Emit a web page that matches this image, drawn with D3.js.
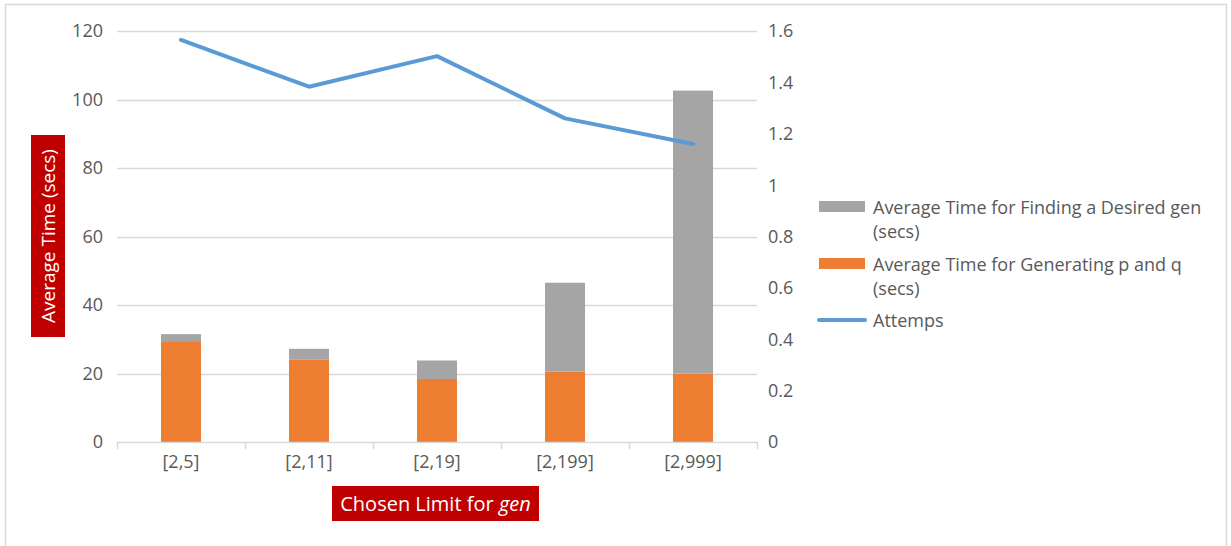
<!DOCTYPE html>
<html>
<head>
<meta charset="utf-8">
<script src="https://cdn.jsdelivr.net/npm/d3@7/dist/d3.min.js"></script>
<style>
  html, body { margin: 0; padding: 0; background: #fff; }
  svg { display: block; font-family: "Open Sans", "Noto Sans", sans-serif; }
</style>
</head>
<body>
<svg id="chart" width="1231" height="546"></svg>
<script>
// Limit ranges chosen for gen
const categories = ["[2,5]", "[2,11]", "[2,19]", "[2,199]", "[2,999]"];
// Average time for generating p and q (secs) – bottom stack
const genPQTime = [29.2, 24.0, 18.4, 20.6, 20.0];
// Average time for finding a desired gen (secs) – top stack
const findGenTime = [2.3, 3.2, 5.4, 25.9, 82.6];
// Average number of attempts (right axis)
const attempts = [1.565, 1.383, 1.502, 1.26, 1.16];

const leftTicks = [0, 20, 40, 60, 80, 100, 120];
const rightTicks = [0, 0.2, 0.4, 0.6, 0.8, 1, 1.2, 1.4, 1.6];

const legendLabels = [
  ["Average Time for Finding a Desired gen", "(secs)"],
  ["Average Time for Generating p and q", "(secs)"],
  ["Attemps"]
];

const colors = { gen: "#ED7D31", find: "#A5A5A5", line: "#5B9BD5", grid: "#D9D9D9", text: "#595959", title: "#C00000" };

const svg = d3.select("#chart");
const plot = { left: 117, right: 757, top: 31, bottom: 442 };

// outer frame
svg.append("rect")
  .attr("x", 5.5).attr("y", 4.5).attr("width", 1221).attr("height", 560)
  .attr("fill", "none").attr("stroke", colors.grid).attr("stroke-width", 1.5);

const x = d3.scaleBand().domain(categories)
  .range([plot.left, plot.right])
  .paddingInner(0.6875).paddingOuter(0.34375);
const yL = d3.scaleLinear().domain([0, 120]).range([plot.bottom, plot.top]);
const yR = d3.scaleLinear().domain([0, 1.6]).range([plot.bottom, plot.top]);

// horizontal gridlines
svg.append("g").selectAll("line").data(leftTicks.filter(d => d > 0)).join("line")
  .attr("x1", plot.left).attr("x2", plot.right)
  .attr("y1", d => Math.round(yL(d)) + 0.5).attr("y2", d => Math.round(yL(d)) + 0.5)
  .attr("stroke", colors.grid).attr("stroke-width", 1.3);

// left axis labels
svg.append("g").selectAll("text").data(leftTicks).join("text")
  .attr("x", 103).attr("y", d => yL(d)).attr("dy", "0.36em")
  .attr("text-anchor", "end").attr("fill", colors.text).attr("font-size", 18)
  .text(d => d);

// right axis labels
svg.append("g").selectAll("text").data(rightTicks).join("text")
  .attr("x", 768).attr("y", d => yR(d)).attr("dy", "0.36em")
  .attr("text-anchor", "start").attr("fill", colors.text).attr("font-size", 18)
  .text(d => d);

// stacked bars
const stackData = categories.map((c, i) => ({ cat: c, gen: genPQTime[i], find: findGenTime[i] }));
const series = d3.stack().keys(["gen", "find"])(stackData);
svg.append("g").selectAll("g").data(series).join("g")
  .attr("fill", s => colors[s.key])
  .selectAll("rect").data(s => s).join("rect")
  .attr("x", d => x(d.data.cat))
  .attr("width", x.bandwidth())
  .attr("y", d => yL(d[1]))
  .attr("height", d => yL(d[0]) - yL(d[1]));

// category axis line and boundary ticks
const xAxis = svg.append("g");
xAxis.append("line")
  .attr("x1", plot.left).attr("x2", plot.right)
  .attr("y1", plot.bottom + 0.5).attr("y2", plot.bottom + 0.5)
  .attr("stroke", colors.grid).attr("stroke-width", 1.5);
const bounds = categories.map(c => x(c) - x.step() * x.paddingOuter()).concat([plot.right]);
xAxis.selectAll("line.tick").data(bounds).join("line").attr("class", "tick")
  .attr("x1", d => Math.round(d) + 0.5).attr("x2", d => Math.round(d) + 0.5)
  .attr("y1", plot.bottom).attr("y2", plot.bottom + 7)
  .attr("stroke", colors.grid).attr("stroke-width", 1.5);
xAxis.selectAll("text").data(categories).join("text")
  .attr("x", d => x(d) + x.bandwidth() / 2).attr("y", 468)
  .attr("text-anchor", "middle").attr("fill", colors.text).attr("font-size", 18)
  .text(d => d);

// attempts line
const line = d3.line()
  .x((d, i) => x(categories[i]) + x.bandwidth() / 2)
  .y(d => yR(d));
svg.append("path").datum(attempts)
  .attr("d", line).attr("fill", "none")
  .attr("stroke", colors.line).attr("stroke-width", 4)
  .attr("stroke-linecap", "round").attr("stroke-linejoin", "round");

// y axis title
const yTitle = svg.append("g");
yTitle.append("rect").attr("x", 31).attr("y", 135).attr("width", 34).attr("height", 202)
  .attr("fill", colors.title);
yTitle.append("text")
  .attr("transform", "translate(48,236) rotate(-90)")
  .attr("text-anchor", "middle").attr("dy", "0.35em")
  .attr("fill", "#fff").attr("font-size", 19)
  .text("Average Time (secs)");

// x axis title
const xTitle = svg.append("g");
xTitle.append("rect").attr("x", 332).attr("y", 486).attr("width", 207).attr("height", 35)
  .attr("fill", colors.title);
const xt = xTitle.append("text")
  .attr("x", 435.5).attr("y", 503.5).attr("dy", "0.35em")
  .attr("text-anchor", "middle").attr("fill", "#fff").attr("font-size", 20);
xt.append("tspan").text("Chosen Limit for ");
xt.append("tspan").attr("font-style", "italic").text("gen");

// legend
const legend = svg.append("g").attr("font-size", 18).attr("fill", colors.text);
const legendRows = [
  { key: "find", y: 207 },
  { key: "gen", y: 264 },
  { key: "line", y: 320 }
];
legendRows.forEach((r, i) => {
  if (r.key === "line") {
    legend.append("line").attr("x1", 819).attr("x2", 865).attr("y1", r.y).attr("y2", r.y)
      .attr("stroke", colors.line).attr("stroke-width", 4).attr("stroke-linecap", "round");
  } else {
    legend.append("rect").attr("x", 819).attr("y", r.y - 6).attr("width", 46).attr("height", 11)
      .attr("fill", colors[r.key]);
  }
  legendLabels[i].forEach((t, j) => {
    legend.append("text").attr("x", 873).attr("y", r.y + 1 + j * 24).attr("dy", "0.35em").text(t);
  });
});
</script>
</body>
</html>
